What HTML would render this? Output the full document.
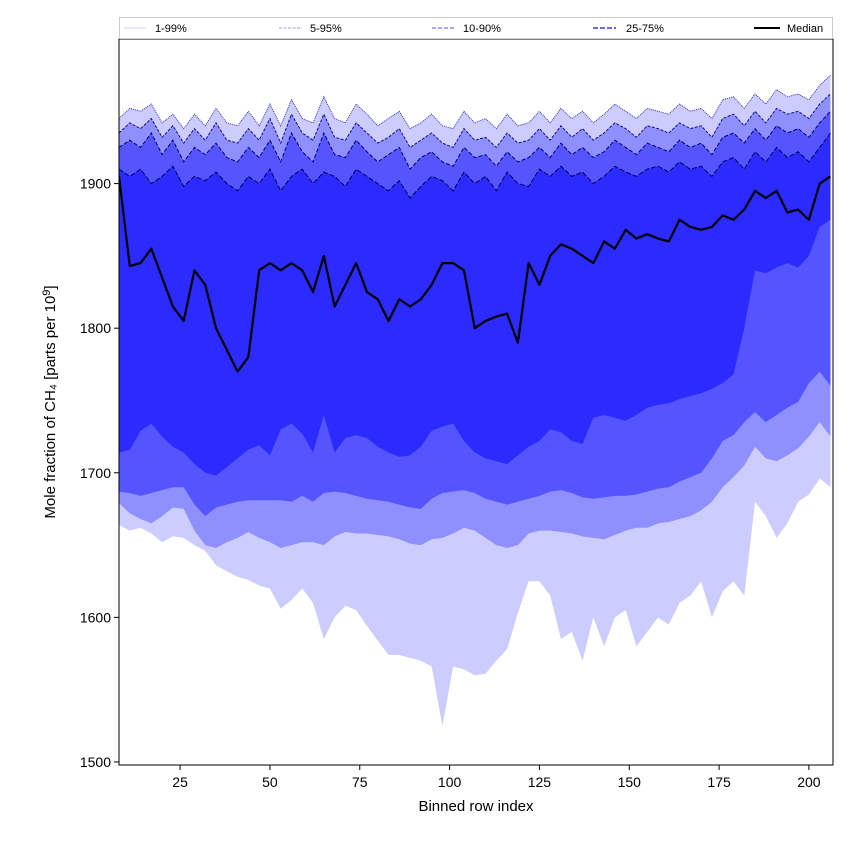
<!DOCTYPE html>
<html><head><meta charset="utf-8"><style>
body{margin:0;background:#fff;font-family:"Liberation Sans","DejaVu Sans",sans-serif}
</style></head><body>
<svg id="chart" width="850" height="850" xmlns="http://www.w3.org/2000/svg"></svg>
<script>
const xs=[8,11,14,17,20,23,26,29,32,35,38,41,44,47,50,53,56,59,62,65,68,71,74,77,80,83,86,89,92,95,98,101,104,107,110,113,116,119,122,125,128,131,134,137,140,143,146,149,152,155,158,161,164,167,170,173,176,179,182,185,188,191,194,197,200,203,206];
const p1=[1664,1660,1662,1658,1652,1656,1655,1650,1646,1636,1632,1628,1626,1622,1620,1606,1612,1620,1610,1585,1600,1608,1605,1594,1584,1574,1574,1572,1570,1566,1525,1566,1564,1560,1561,1570,1578,1603,1625,1625,1615,1585,1590,1570,1600,1580,1600,1605,1580,1590,1600,1595,1610,1615,1625,1600,1618,1625,1615,1680,1670,1655,1665,1680,1685,1696,1690];
const p5=[1679,1672,1668,1665,1670,1676,1675,1660,1650,1648,1652,1655,1659,1655,1652,1648,1650,1652,1652,1650,1656,1659,1658,1658,1657,1656,1654,1651,1650,1654,1655,1658,1662,1660,1655,1650,1648,1650,1658,1660,1660,1659,1658,1656,1655,1654,1657,1660,1662,1662,1665,1666,1668,1670,1674,1680,1690,1697,1705,1718,1710,1708,1712,1717,1725,1735,1725];
const p10=[1687,1686,1684,1686,1688,1690,1690,1678,1670,1676,1678,1680,1681,1681,1681,1681,1680,1684,1680,1686,1687,1686,1684,1682,1681,1680,1678,1676,1675,1682,1686,1687,1688,1686,1682,1680,1678,1680,1682,1684,1687,1688,1686,1683,1682,1683,1684,1684,1685,1687,1689,1690,1694,1697,1700,1710,1722,1726,1735,1742,1735,1740,1745,1749,1762,1770,1760];
const p25=[1714,1716,1729,1734,1725,1718,1714,1706,1700,1698,1704,1710,1716,1719,1712,1730,1734,1727,1714,1740,1714,1724,1726,1724,1718,1714,1711,1712,1718,1729,1732,1734,1722,1714,1710,1708,1706,1712,1718,1722,1730,1728,1722,1720,1738,1740,1738,1736,1740,1745,1747,1748,1751,1753,1755,1758,1762,1768,1800,1840,1838,1842,1845,1842,1850,1870,1875];
const p50=[1905,1843,1845,1855,1835,1815,1805,1840,1830,1800,1785,1770,1780,1840,1845,1840,1845,1840,1825,1850,1815,1830,1845,1825,1820,1805,1820,1815,1820,1830,1845,1845,1840,1800,1805,1808,1810,1790,1845,1830,1850,1858,1855,1850,1845,1860,1855,1868,1862,1865,1862,1860,1875,1870,1868,1870,1878,1875,1882,1895,1890,1895,1880,1882,1875,1900,1905];
const p75=[1910,1905,1910,1900,1905,1912,1898,1905,1902,1908,1900,1895,1905,1900,1910,1895,1905,1910,1900,1908,1905,1898,1910,1905,1900,1895,1902,1890,1898,1905,1902,1895,1908,1900,1905,1895,1908,1900,1898,1910,1905,1912,1905,1908,1900,1905,1912,1908,1905,1910,1912,1908,1915,1910,1912,1905,1915,1918,1910,1922,1915,1925,1918,1922,1915,1925,1935];
const p90=[1925,1930,1925,1935,1920,1930,1915,1925,1920,1928,1918,1915,1925,1918,1930,1915,1935,1922,1915,1935,1920,1918,1930,1922,1915,1920,1925,1910,1918,1922,1915,1912,1925,1918,1920,1912,1922,1915,1918,1925,1918,1928,1920,1925,1918,1922,1930,1925,1920,1928,1925,1922,1930,1925,1928,1920,1932,1935,1928,1938,1930,1940,1935,1938,1932,1942,1950];
const p95=[1935,1942,1938,1945,1932,1940,1928,1938,1930,1942,1930,1928,1938,1930,1945,1928,1948,1935,1930,1948,1932,1930,1942,1935,1928,1932,1938,1925,1930,1935,1928,1925,1938,1930,1932,1925,1935,1928,1930,1938,1930,1940,1932,1938,1930,1935,1942,1938,1932,1940,1938,1935,1942,1938,1940,1932,1945,1948,1940,1950,1942,1952,1948,1950,1945,1955,1962];
const p99=[1945,1952,1950,1955,1942,1948,1938,1948,1940,1952,1942,1940,1950,1940,1955,1940,1958,1945,1942,1960,1945,1942,1955,1948,1940,1945,1950,1938,1942,1948,1940,1938,1950,1942,1945,1938,1948,1940,1942,1950,1942,1952,1945,1950,1942,1948,1955,1950,1945,1952,1950,1948,1955,1950,1952,1945,1958,1960,1952,1962,1955,1965,1960,1962,1958,1968,1975];
const xTicks=[25,50,75,100,125,150,175,200];
const yTicks=[1500,1600,1700,1800,1900];

const L=119,R=833,T=39,B=765;
const X=v=>L+(v-8)*(R-L)/(206.7-8);
const Y=v=>B-(v-1497.9)*(B-T)/(2000-1497.9);
const NS='http://www.w3.org/2000/svg';
const svg=document.getElementById('chart');
function mk(tag,attrs,parent){const e=document.createElementNS(NS,tag);for(const k in attrs)e.setAttribute(k,attrs[k]);(parent||svg).appendChild(e);return e;}
const defs=mk('defs',{});const cp=mk('clipPath',{id:'clip'},defs);mk('rect',{x:L,y:T,width:R-L,height:B-T},cp);
const g=mk('g',{'clip-path':'url(#clip)'});
function line(arr){return xs.map((x,i)=>X(x)+','+Y(arr[i])).join(' ');}
function band(lo,hi,fill,name){
  const pts=xs.map((x,i)=>X(x)+','+Y(hi[i])).concat(xs.map((x,i)=>X(x)+','+Y(lo[i])).reverse()).join(' ');
  const p=mk('polygon',{points:pts,fill:fill},g);
  
  
}
band(p1,p99,'#ccccff','band-1-99');
band(p5,p95,'#8f8fff','band-5-95');
band(p10,p90,'#5555ff','band-10-90');
band(p25,p75,'#2b2bff','band-25-75');
[[p99,'#3030c0','1,1','line-p99'],[p95,'#101090','3,1.5','line-p95'],[p90,'#000070','4,2','line-p90'],[p75,'#000060','5,2','line-p75']].forEach(d=>{
  const e=mk('polyline',{points:line(d[0]),fill:'none',stroke:d[1],'stroke-width':1,'stroke-dasharray':d[2]},g);
  
  
});
const med=mk('polyline',{points:line(p50),fill:'none',stroke:'#000','stroke-width':2.2,'stroke-linejoin':'round'},g);


const frame=mk('rect',{x:L,y:T,width:R-L,height:B-T,fill:'none',stroke:'#000','stroke-width':1});


xTicks.forEach(t=>{
  mk('line',{x1:X(t),x2:X(t),y1:B,y2:B+5,stroke:'#000'});
  const tx=mk('text',{x:X(t),y:B+22,'text-anchor':'middle','font-size':14},svg);tx.textContent=t;
  
  
});
yTicks.forEach(t=>{
  mk('line',{x1:L-5,x2:L,y1:Y(t),y2:Y(t),stroke:'#000'});
  const tx=mk('text',{x:L-8,y:Y(t)+5,'text-anchor':'end','font-size':14},svg);tx.textContent=t;
  
  
});
</script>
<svg style="position:absolute;left:0;top:0" width="850" height="850" xmlns="http://www.w3.org/2000/svg">
<text x="476" y="811" text-anchor="middle" font-size="15" font-family="Liberation Sans, sans-serif">Binned row index</text>
<text transform="translate(55,402) rotate(-90)" text-anchor="middle" font-size="15" font-family="Liberation Sans, DejaVu Sans, sans-serif">Mole fraction of CH₄ [parts per 10<tspan dy="-5" font-size="11">9</tspan><tspan dy="5">]</tspan></text>
<g font-family="Liberation Sans, sans-serif" font-size="11">
<rect x="119.5" y="17.5" width="713" height="21" fill="#fff" stroke="#ccc" stroke-width="1"/>
<g><line x1="124" x2="146" y1="28" y2="28" stroke="#ccccff" stroke-width="1"/><text x="155" y="32">1-99%</text></g>
<g><line x1="279" x2="302" y1="28" y2="28" stroke="#9999ff" stroke-dasharray="3,1.5"/><text x="310" y="32">5-95%</text></g>
<g><line x1="432" x2="455" y1="28" y2="28" stroke="#7777ff" stroke-width="1.3" stroke-dasharray="4,2"/><text x="463" y="32">10-90%</text></g>
<g><line x1="593" x2="616" y1="28" y2="28" stroke="#5555ff" stroke-width="1.8" stroke-dasharray="5,2"/><text x="626" y="32">25-75%</text></g>
<g><line x1="754" x2="780" y1="28" y2="28" stroke="#000" stroke-width="2"/><text x="787" y="32">Median</text></g>
</g>
</svg>
</body></html>
